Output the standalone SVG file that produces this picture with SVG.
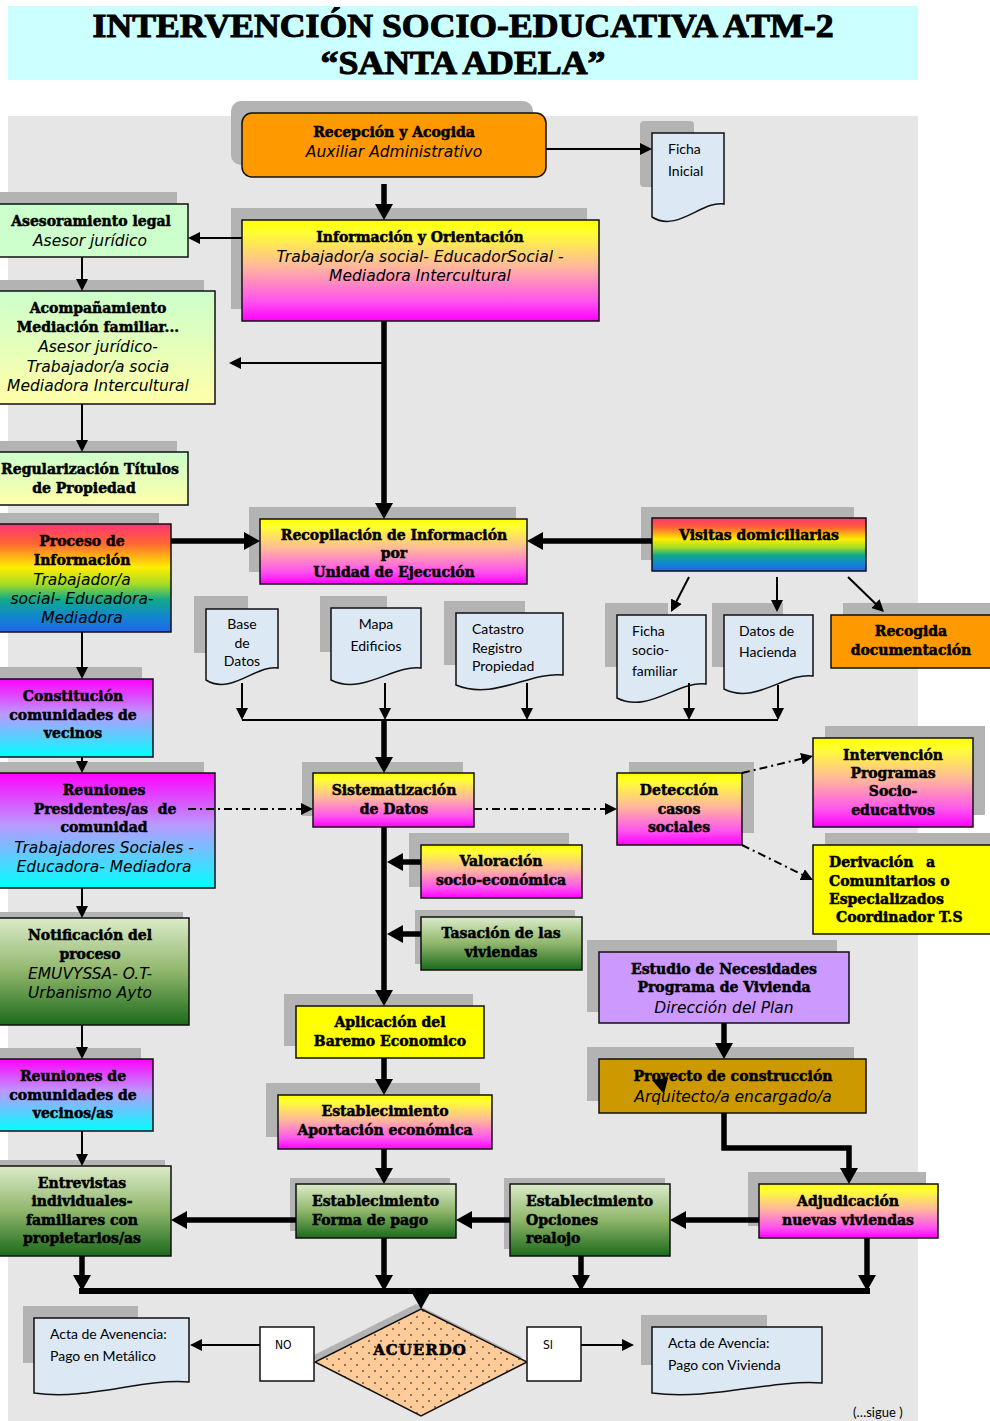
<svg xmlns="http://www.w3.org/2000/svg" width="990" height="1421" viewBox="0 0 990 1421">
<style>
.sh{fill:#b3b3b3}
.bx{stroke:#111;stroke-width:1.5}
.doc{fill:#dce8f4;stroke:#111;stroke-width:1.5}
.h{font-family:"DejaVu Serif","Liberation Serif",serif;font-weight:bold;font-size:14px;text-anchor:middle;fill:#000;stroke:#000;stroke-width:0.5}
.hl{font-family:"DejaVu Serif","Liberation Serif",serif;font-weight:bold;font-size:14px;text-anchor:start;fill:#000;stroke:#000;stroke-width:0.5}
.i{font-family:"DejaVu Sans",sans-serif;font-style:italic;font-size:15.5px;text-anchor:middle;fill:#000}
.d{font-family:Lato,"Open Sans",sans-serif;font-size:14px;fill:#000}
.dc{font-family:Lato,"Open Sans",sans-serif;font-size:14px;fill:#000;text-anchor:middle}
.t{font-family:"Liberation Serif",serif;font-weight:bold;font-size:33px;text-anchor:middle;fill:#000;stroke:#000;stroke-width:1}
.ns{font-family:"DejaVu Sans Condensed","DejaVu Sans",sans-serif;font-size:12px;fill:#000}
.thin{fill:none;stroke:#000;stroke-width:2;marker-end:url(#at)}
.thick{fill:none;stroke:#000;stroke-width:5.5;marker-end:url(#aT)}
.dd{fill:none;stroke:#000;stroke-width:2;stroke-dasharray:8 4 2 4;marker-end:url(#at)}
</style>
<defs>
<marker id="at" markerUnits="userSpaceOnUse" markerWidth="12" markerHeight="12" refX="6" refY="6" orient="auto"><path d="M0,0L12,6L0,12z" fill="#000"/></marker>
<marker id="aT" markerUnits="userSpaceOnUse" markerWidth="16" markerHeight="18" refX="6" refY="9" orient="auto"><path d="M0,0L16,9L0,18z" fill="#000"/></marker>
<linearGradient id="gYM" x1="0" y1="0" x2="0" y2="1"><stop offset="0" stop-color="#ffff00"/><stop offset="0.12" stop-color="#ffff33"/><stop offset="0.45" stop-color="#ffbb99"/><stop offset="0.8" stop-color="#ff55ee"/><stop offset="1" stop-color="#ff00ff"/></linearGradient>
<linearGradient id="gMC" x1="0" y1="0" x2="0" y2="1"><stop offset="0" stop-color="#ff00ff"/><stop offset="0.45" stop-color="#bb99ff"/><stop offset="1" stop-color="#00ffff"/></linearGradient>
<linearGradient id="gG" x1="0" y1="0" x2="0" y2="1"><stop offset="0" stop-color="#dcebc9"/><stop offset="0.5" stop-color="#8fb66b"/><stop offset="1" stop-color="#1b6a1b"/></linearGradient>
<linearGradient id="gLG" x1="0" y1="0" x2="0" y2="1"><stop offset="0" stop-color="#ccffcc"/><stop offset="1" stop-color="#ffffa8"/></linearGradient>
<linearGradient id="gR" x1="0" y1="0" x2="0" y2="1"><stop offset="0" stop-color="#ff3377"/><stop offset="0.18" stop-color="#ff6633"/><stop offset="0.4" stop-color="#ffee00"/><stop offset="0.55" stop-color="#aadd22"/><stop offset="0.7" stop-color="#11aa88"/><stop offset="0.85" stop-color="#1188cc"/><stop offset="1" stop-color="#2266ee"/></linearGradient>
<pattern id="dots" width="12" height="12" patternUnits="userSpaceOnUse"><rect width="12" height="12" fill="#ffcc99"/><circle cx="3" cy="3" r="1" fill="#665544"/><circle cx="9" cy="9" r="1" fill="#665544"/></pattern>
</defs>

<rect x="8" y="6" width="910" height="74" fill="#ccffff"/>
<text class="t" x="463" y="37" textLength="741" lengthAdjust="spacingAndGlyphs">INTERVENCIÓN SOCIO-EDUCATIVA  ATM-2</text>
<text class="t" x="463" y="74" textLength="285" lengthAdjust="spacingAndGlyphs">“SANTA ADELA”</text>
<rect x="8" y="116" width="910" height="1305" fill="#e6e6e6"/>

<g id="recepcion"><rect class="sh" x="231" y="101" width="302" height="64" rx="10"/><rect class="bx" x="242" y="113" width="304" height="64" rx="10" fill="#ff9900"/><text class="h" x="394" y="137">Recepción y Acogida</text><text class="i" x="394" y="157">Auxiliar Administrativo</text></g>
<g id="ficha-inicial"><rect class="sh" x="640" y="121" width="54" height="66" rx="4"/><path class="doc" d="M652,133H724V204C702.4,200 677.2,233 652,217Z"/><text class="d" x="668" y="154">Ficha</text><text class="d" x="668" y="176">Inicial</text></g>
<g id="informacion"><rect class="sh" x="231" y="208" width="356" height="101"/><rect class="bx" x="242" y="220" width="357" height="101" fill="url(#gYM)"/><text class="h" x="420" y="242">Información y Orientación</text><text class="i" x="420" y="262">Trabajador/a social- EducadorSocial -</text><text class="i" x="420" y="281">Mediadora Intercultural</text></g>
<g id="asesoramiento"><rect class="sh" x="0" y="192" width="177" height="54"/><rect class="bx" x="-2" y="204" width="190" height="53" fill="#ccffcc"/><text class="h" x="91" y="226">Asesoramiento legal</text><text class="i" x="90" y="246">Asesor jurídico</text></g>
<g id="acompanamiento"><rect class="sh" x="0" y="280" width="204" height="113"/><rect class="bx" x="-2" y="291" width="217" height="113" fill="url(#gLG)"/><text class="h" x="98" y="313">Acompañamiento</text><text class="h" x="98" y="332">Mediación familiar...</text><text class="i" x="98" y="352">Asesor jurídico-</text><text class="i" x="98" y="372">Trabajador/a socia</text><text class="i" x="98" y="391">Mediadora Intercultural</text></g>
<g id="regularizacion"><rect class="sh" x="0" y="441" width="177" height="53"/><rect class="bx" x="-2" y="452" width="190" height="53" fill="url(#gLG)"/><text class="h" x="90" y="474">Regularización Títulos</text><text class="h" x="84" y="493">de Propiedad</text></g>
<g id="proceso"><rect class="sh" x="0" y="513" width="159" height="108"/><rect class="bx" x="-2" y="524" width="173" height="108" fill="url(#gR)"/><text class="h" x="82" y="546">Proceso de</text><text class="h" x="82" y="565">Información</text><text class="i" x="82" y="585">Trabajador/a</text><text class="i" x="82" y="604">social- Educadora-</text><text class="i" x="82" y="623">Mediadora</text></g>
<g id="recopilacion"><rect class="sh" x="249" y="507" width="267" height="65"/><rect class="bx" x="260" y="519" width="267" height="65" fill="url(#gYM)"/><text class="h" x="394" y="540">Recopilación de Información</text><text class="h" x="394" y="558">por</text><text class="h" x="394" y="577">Unidad de Ejecución</text></g>
<g id="visitas"><rect class="sh" x="641" y="507" width="213" height="53"/><rect class="bx" x="652" y="518" width="214" height="53" fill="url(#gR)"/><text class="h" x="759" y="540">Visitas domiciliarias</text></g>
<g id="recogida"><rect class="sh" x="843" y="603" width="150" height="53"/><rect class="bx" x="831" y="615" width="162" height="53" fill="#ff9900"/><text class="h" x="911" y="636">Recogida</text><text class="h" x="911" y="655">documentación</text></g>
<g id="base-datos"><rect class="sh" x="194" y="596" width="54" height="57"/><path class="doc" d="M206,609H278V668C256.4,664 231.2,696 206,680Z"/><text class="dc" x="242" y="629">Base</text><text class="dc" x="242" y="648">de</text><text class="dc" x="242" y="666">Datos</text></g>
<g id="mapa"><rect class="sh" x="320" y="596" width="67" height="56"/><path class="doc" d="M331,608H421V668C394,664 362.5,696 331,680Z"/><text class="dc" x="376" y="629">Mapa</text><text class="dc" x="376" y="651">Edificios</text></g>
<g id="catastro"><rect class="sh" x="444" y="601" width="81" height="64"/><path class="doc" d="M456,613H563V675C531,671 493.5,701 456,685Z"/><text class="d" x="472" y="634">Catastro</text><text class="d" x="472" y="653">Registro</text><text class="d" x="472" y="671">Propiedad</text></g>
<g id="ficha-socio"><rect class="sh" x="605" y="603" width="63" height="64"/><path class="doc" d="M617,615H706V684C679,680 648,714 617,698Z"/><text class="d" x="632" y="636">Ficha</text><text class="d" x="632" y="655">socio-</text><text class="d" x="632" y="676">familiar</text></g>
<g id="hacienda"><rect class="sh" x="712" y="603" width="71" height="64"/><path class="doc" d="M724,615H813V676C786,672 755,705 724,689Z"/><text class="d" x="739" y="636">Datos de</text><text class="d" x="739" y="657">Hacienda</text></g>
<g id="constitucion"><rect class="sh" x="0" y="667" width="142" height="78"/><rect class="bx" x="-2" y="679" width="155" height="78" fill="url(#gMC)"/><text class="h" x="73" y="701">Constitución</text><text class="h" x="73" y="720">comunidades de</text><text class="h" x="73" y="738">vecinos</text></g>
<g id="reuniones-presidentes"><rect class="sh" x="0" y="762" width="204" height="115"/><rect class="bx" x="-2" y="773" width="217" height="115" fill="url(#gMC)"/><text class="h" x="104" y="795">Reuniones</text><text class="h" x="105" y="814" xml:space="preserve">Presidentes/as  de</text><text class="h" x="104" y="832">comunidad</text><text class="i" x="104" y="853">Trabajadores Sociales -</text><text class="i" x="104" y="872">Educadora- Mediadora</text></g>
<g id="sistematizacion"><rect class="sh" x="302" y="762" width="161" height="54"/><rect class="bx" x="313" y="773" width="161" height="54" fill="url(#gYM)"/><text class="h" x="394" y="795">Sistematización</text><text class="h" x="394" y="814">de Datos</text></g>
<g id="deteccion"><rect class="sh" x="629" y="762" width="125" height="71"/><rect class="bx" x="617" y="773" width="125" height="72" fill="url(#gYM)"/><text class="h" x="679" y="795">Detección</text><text class="h" x="679" y="814">casos</text><text class="h" x="679" y="832">sociales</text></g>
<g id="intervencion"><rect class="sh" x="825" y="726" width="160" height="89"/><rect class="bx" x="813" y="738" width="160" height="89" fill="url(#gYM)"/><text class="h" x="893" y="760">Intervención</text><text class="h" x="893" y="778">Programas</text><text class="h" x="893" y="796">Socio-</text><text class="h" x="893" y="815">educativos</text></g>
<g id="derivacion"><rect class="sh" x="825" y="833" width="168" height="89"/><rect class="bx" x="813" y="845" width="180" height="89" fill="#ffff00"/><text class="hl" x="829" y="867">Derivación</text><text class="hl" x="926" y="867">a</text><text class="hl" x="829" y="886">Comunitarios o</text><text class="hl" x="829" y="904">Especializados</text><text class="hl" x="836" y="922">Coordinador T.S</text></g>
<g id="valoracion"><rect class="sh" x="409" y="833" width="160" height="54"/><rect class="bx" x="421" y="845" width="161" height="53" fill="url(#gYM)"/><text class="h" x="501" y="866">Valoración</text><text class="h" x="501" y="885">socio-económica</text></g>
<g id="tasacion"><rect class="sh" x="415" y="910" width="160" height="54"/><rect class="bx" x="421" y="917" width="161" height="53" fill="url(#gG)"/><text class="h" x="501" y="938">Tasación de las</text><text class="h" x="501" y="957">viviendas</text></g>
<g id="notificacion"><rect class="sh" x="0" y="912" width="183" height="107"/><rect class="bx" x="-2" y="918" width="191" height="107" fill="url(#gG)"/><text class="h" x="90" y="940">Notificación del</text><text class="h" x="90" y="959">proceso</text><text class="i" x="90" y="979">EMUVYSSA- O.T-</text><text class="i" x="90" y="998">Urbanismo Ayto</text></g>
<g id="estudio"><rect class="sh" x="587" y="940" width="250" height="72"/><rect class="bx" x="599" y="952" width="250" height="71" fill="#cc99ff"/><text class="h" x="724" y="974">Estudio de Necesidades</text><text class="h" x="724" y="992">Programa de Vivienda</text><text class="i" x="724" y="1013">Dirección del Plan</text></g>
<g id="aplicacion"><rect class="sh" x="284" y="994" width="189" height="52"/><rect class="bx" x="296" y="1006" width="188" height="52" fill="#ffff00"/><text class="h" x="390" y="1027">Aplicación del</text><text class="h" x="390" y="1046">Baremo Economico</text></g>
<g id="reuniones-comunidades"><rect class="sh" x="0" y="1048" width="141" height="71"/><rect class="bx" x="-2" y="1059" width="155" height="72" fill="url(#gMC)"/><text class="h" x="73" y="1081">Reuniones de</text><text class="h" x="73" y="1100">comunidades de</text><text class="h" x="73" y="1118">vecinos/as</text></g>
<g id="proyecto"><rect class="sh" x="587" y="1047" width="267" height="54"/><rect class="bx" x="599" y="1059" width="267" height="54" fill="#cc9900"/><text class="h" x="733" y="1081">Proyecto de construcción</text><text class="i" x="733" y="1102">Arquitecto/a encargado/a</text></g>
<g id="aportacion"><rect class="sh" x="266" y="1083" width="214" height="54"/><rect class="bx" x="278" y="1095" width="214" height="54" fill="url(#gYM)"/><text class="h" x="385" y="1116">Establecimiento</text><text class="h" x="385" y="1135">Aportación económica</text></g>
<g id="entrevistas"><rect class="sh" x="0" y="1160" width="165" height="89"/><rect class="bx" x="-2" y="1166" width="173" height="90" fill="url(#gG)"/><text class="h" x="82" y="1188">Entrevistas</text><text class="h" x="82" y="1206">individuales-</text><text class="h" x="82" y="1225">familiares con</text><text class="h" x="82" y="1243">propietarios/as</text></g>
<g id="forma-pago"><rect class="sh" x="290" y="1178" width="160" height="53"/><rect class="bx" x="296" y="1184" width="160" height="54" fill="url(#gG)"/><text class="hl" x="312" y="1206">Establecimiento</text><text class="hl" x="312" y="1225">Forma de pago</text></g>
<g id="opciones"><rect class="sh" x="504" y="1178" width="161" height="71"/><rect class="bx" x="510" y="1184" width="160" height="72" fill="url(#gG)"/><text class="hl" x="526" y="1206">Establecimiento</text><text class="hl" x="526" y="1225">Opciones</text><text class="hl" x="526" y="1243">realojo</text></g>
<g id="adjudicacion"><rect class="sh" x="748" y="1172" width="178" height="54"/><rect class="bx" x="759" y="1184" width="179" height="54" fill="url(#gYM)"/><text class="h" x="848" y="1206">Adjudicación</text><text class="h" x="848" y="1225">nuevas viviendas</text></g>
<g id="acuerdo"><polygon class="sh" points="416,1304 522,1357 416,1411 310,1357"/><polygon points="421,1309 527,1362 421,1416 315,1362" fill="url(#dots)" stroke="#111" stroke-width="1.5"/><text class="h" x="420" y="1355" style="font-size:15px;letter-spacing:1px">ACUERDO</text></g>
<g id="no"><rect x="260" y="1327" width="54" height="54" fill="#fff" stroke="#111" stroke-width="1.5"/><text class="ns" x="275" y="1349">NO</text></g>
<g id="si"><rect x="527" y="1327" width="54" height="54" fill="#fff" stroke="#111" stroke-width="1.5"/><text class="ns" x="543" y="1349">SI</text></g>
<g id="acta-metalico"><rect class="sh" x="23" y="1306" width="115" height="57"/><path class="doc" d="M34,1318H189V1382C142.5,1378 88,1401 34,1393Z"/><text class="d" x="50" y="1339">Acta de Avenencia:</text><text class="d" x="50" y="1361">Pago en Metálico</text></g>
<g id="acta-vivienda"><rect class="sh" x="641" y="1315" width="126" height="50"/><path class="doc" d="M652,1327H822V1383C771,1379 711.5,1401 652,1393Z"/><text class="d" x="668" y="1348">Acta de Avencia:</text><text class="d" x="668" y="1370">Pago con Vivienda</text></g>
<text class="d" x="853" y="1417" style="font-size:13px">(…sigue )</text>

<g id="connectors">
<path class="thin" d="M546,149H646"/>
<path class="thin" d="M242,238H194"/>
<path class="thin" d="M82,257V285"/>
<path class="thin" d="M384,363H235"/>
<path class="thin" d="M82,404V446"/>
<path class="thin" d="M82,632V673"/>
<path class="thin" d="M82,757V767"/>
<path class="thin" d="M82,888V912"/>
<path class="thin" d="M82,1025V1053"/>
<path class="thin" d="M82,1131V1160"/>
<path class="thin" d="M689,577L673.7,606.7"/>
<path class="thin" d="M777,577V606"/>
<path class="thin" d="M848,577L879.7,607.8"/>
<path class="thin" d="M242,683V714"/>
<path class="thin" d="M385,683V714"/>
<path class="thin" d="M527,683V714"/>
<path class="thin" d="M689,683V714"/>
<path class="thin" d="M778,685V714"/>
<path d="M242,720H778" fill="none" stroke="#000" stroke-width="2"/>
<path class="thin" d="M260,1345H196"/>
<path class="thin" d="M581,1345H628"/>
<path class="dd" d="M188,809H307"/>
<path class="dd" d="M474,809H611"/>
<path class="dd" d="M742,773L807.2,757.4"/>
<path class="dd" d="M742,845L807.6,877.3"/>
<path class="thick" d="M384,184V210"/>
<path class="thick" d="M384,321V509"/>
<path class="thick" d="M171,541H250"/>
<path class="thick" d="M652,541H537"/>
<path class="thick" d="M384,719V763"/>
<path class="thick" d="M384,827V996"/>
<path class="thick" d="M421,862H397"/>
<path class="thick" d="M421,934H397"/>
<path class="thick" d="M384,1058V1085"/>
<path class="thick" d="M384,1149V1174"/>
<path class="thick" d="M296,1220H181"/>
<path class="thick" d="M510,1220H466"/>
<path class="thick" d="M759,1220H680"/>
<path class="thick" d="M724,1023V1049"/>
<path class="thick" d="M724,1113V1148H849V1174"/>
<path class="thick" d="M82,1256V1281"/>
<path class="thick" d="M384,1238V1281"/>
<path class="thick" d="M581,1256V1281"/>
<path class="thick" d="M867,1238V1281"/>
<path d="M79,1291H870" fill="none" stroke="#000" stroke-width="6"/>
<path class="thick" d="M421,1291V1299"/>
<polygon points="652,1080 668,1078 664,1094" fill="#000"/>
</g>
</svg>
